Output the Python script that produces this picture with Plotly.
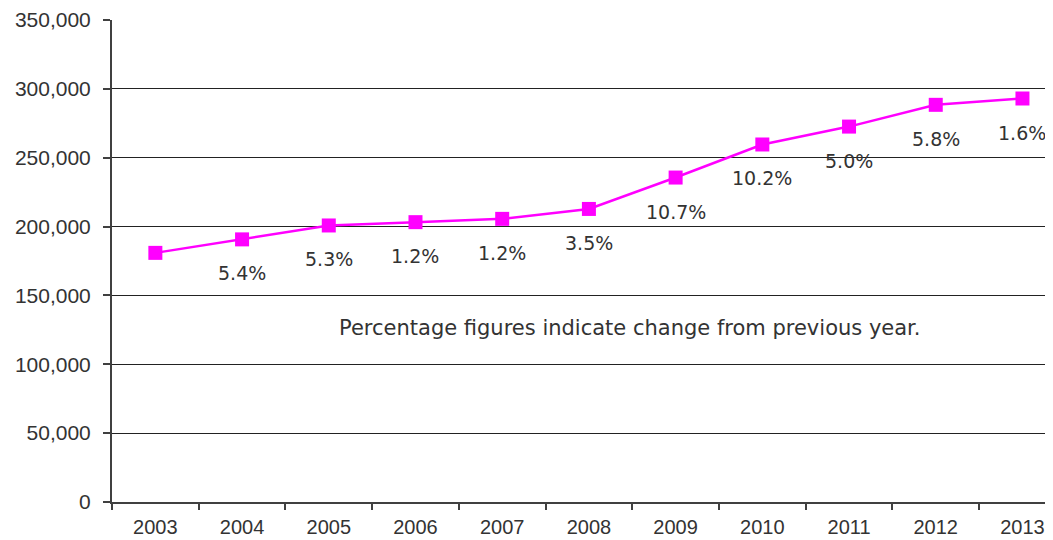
import plotly.graph_objects as go

years = ["2003", "2004", "2005", "2006", "2007", "2008",
         "2009", "2010", "2011", "2012", "2013"]
totals = [180900, 190700, 200800, 203200, 205600, 212800,
          235600, 259600, 272600, 288400, 293000]
pct_change = ["", "5.4%", "5.3%", "1.2%", "1.2%", "3.5%",
              "10.7%", "10.2%", "5.0%", "5.8%", "1.6%"]
note = "Percentage figures indicate change from previous year."

fig = go.Figure()

fig.add_trace(go.Scatter(
    x=years, y=totals, mode="lines+markers",
    line=dict(color="#FF00FF", width=2.5),
    marker=dict(color="#FF00FF", size=14, symbol="square"),
    showlegend=False, hoverinfo="x+y",
))

# percentage labels below each marker (x as category index, "2004" would be read as a number)
for i, (val, txt) in enumerate(zip(totals, pct_change)):
    if not txt:
        continue
    fig.add_annotation(x=i, y=val, text=txt, showarrow=False,
                       yshift=-34, font=dict(family="DejaVu Sans", size=19, color="#333333"))

fig.add_annotation(x=0.555, y=0.36, xref="paper", yref="paper", text=note,
                   showarrow=False, font=dict(family="DejaVu Sans", size=21, color="#333333"))

# page body has an 8px margin and content is clipped at body width,
# so the figure is made 16px narrower than the window
fig.update_layout(
    width=1037, height=540,
    margin=dict(l=104, r=0, t=12, b=46),
    plot_bgcolor="white", paper_bgcolor="white",
    font=dict(family="Liberation Sans, Arial", size=20, color="#333333"),
)
fig.update_xaxes(
    type="category", range=[-0.5, 10.26],
    showline=True, linecolor="#404040", linewidth=2,
    ticks="outside", tickson="boundaries", ticklen=6, tickcolor="#404040", tickwidth=1.5,
    showgrid=False, zeroline=False, ticklabelstandoff=6,
)
fig.update_yaxes(
    range=[0, 350000], dtick=50000, tickformat=",",
    showline=True, linecolor="#404040", linewidth=2,
    ticks="outside", ticklen=7, tickcolor="#404040", tickwidth=1.5,
    showgrid=True, gridcolor="#222222", gridwidth=1.2, zeroline=False,
    tickfont=dict(size=21), ticklabelstandoff=8,
)

fig.write_html("out.html")
